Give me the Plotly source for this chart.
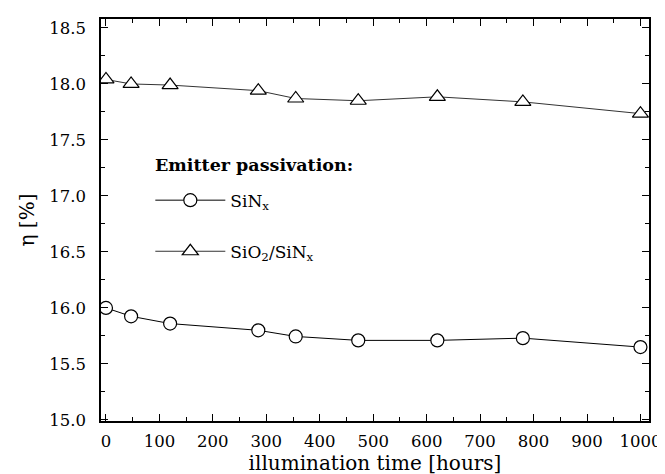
import plotly.graph_objects as go

time_sinx = [0, 47, 120, 285, 355, 472, 620, 780, 1000]
eta_sinx = [16.00, 15.925, 15.86, 15.80, 15.745, 15.71, 15.71, 15.73, 15.65]

time_sio2 = [0, 47, 120, 285, 355, 472, 620, 780, 1000]
eta_sio2 = [18.04, 18.00, 17.99, 17.94, 17.87, 17.85, 17.885, 17.84, 17.735]

legend_title = "Emitter passivation:"

FONT = "DejaVu Serif"

fig = go.Figure()
fig.add_trace(go.Scatter(
    x=time_sinx, y=eta_sinx, mode="lines+markers", name="SiN<sub>x</sub>",
    legendgroup="a",
    line=dict(color="black", width=1),
    marker=dict(symbol="circle", size=13, color="white", line=dict(color="black", width=1.2)),
))
fig.add_trace(go.Scatter(
    x=time_sio2, y=eta_sio2, mode="lines+markers", name="SiO<sub>2</sub>/SiN<sub>x</sub>",
    legendgroup="b",
    line=dict(color="#333333", width=1),
    marker=dict(symbol="triangle-up", size=14, color="white", line=dict(color="black", width=1.2)),
))

axis_common = dict(
    showline=True, linecolor="black", linewidth=1.5, mirror="ticks",
    ticks="inside", ticklen=7, tickwidth=1.3, tickcolor="black",
    showgrid=False, zeroline=False, automargin=False,
    tickfont=dict(family=FONT, size=16.5, color="black"),
)

fig.update_xaxes(
    range=[-9.3, 1016], tickmode="linear", tick0=0, dtick=100,
    minor=dict(dtick=50, ticks="inside", ticklen=4, tickcolor="black", tickwidth=1.2),
    ticklabelstandoff=4,
    title=dict(text="illumination time [hours]", font=dict(family=FONT, size=20, color="black"), standoff=5),
    **axis_common,
)
fig.update_yaxes(
    range=[14.99, 18.58], tickmode="linear", tick0=15, dtick=0.5, tickformat=".1f",
    minor=dict(dtick=0.25, ticks="inside", ticklen=4, tickcolor="black", tickwidth=1.2),
    ticklabelstandoff=10,
    title=dict(text="η [%]", font=dict(family=FONT, size=20, color="black"), standoff=9),
    **axis_common,
)

fig.add_annotation(
    xref="paper", yref="paper", x=0.0945, y=0.637, xanchor="left", yanchor="middle",
    text="<b>" + legend_title + "</b>", showarrow=False,
    font=dict(family=FONT, size=17.5, color="black"),
)

fig.update_layout(
    width=665, height=474,
    margin=dict(l=93, r=24, t=11, b=61),
    paper_bgcolor="white", plot_bgcolor="white",
    font=dict(family=FONT, color="black"),
    legend=dict(
        x=0.09, y=0.593, xanchor="left", yanchor="top",
        bgcolor="rgba(0,0,0,0)", borderwidth=0,
        font=dict(family=FONT, size=17, color="black"),
        traceorder="grouped", tracegroupgap=26, itemwidth=70,
    ),
)

fig.write_html("out.html")
